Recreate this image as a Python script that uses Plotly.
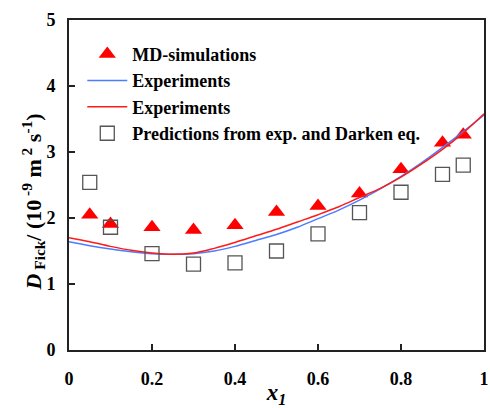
import plotly.graph_objects as go

x_md = [0.05, 0.1, 0.2, 0.3, 0.4, 0.5, 0.6, 0.7, 0.8, 0.9, 0.95]
d_md = [2.05, 1.91, 1.86, 1.82, 1.89, 2.09, 2.18, 2.37, 2.74, 3.14, 3.26]

x_pred = [0.05, 0.1, 0.2, 0.3, 0.4, 0.5, 0.6, 0.7, 0.8, 0.9, 0.95]
d_pred = [2.54, 1.86, 1.46, 1.30, 1.32, 1.50, 1.76, 2.08, 2.39, 2.66, 2.80]

x_exp = [0.0, 0.05, 0.1, 0.15, 0.2, 0.25, 0.3, 0.35, 0.4, 0.45, 0.5,
         0.55, 0.6, 0.65, 0.7, 0.75, 0.8, 0.85, 0.9, 0.95, 1.0]
d_exp_blue = [1.64, 1.58, 1.53, 1.49, 1.46, 1.45, 1.46, 1.50, 1.57, 1.66, 1.75,
              1.86, 1.99, 2.12, 2.27, 2.44, 2.63, 2.84, 3.07, 3.31, 3.56]
d_exp_red = [1.70, 1.64, 1.57, 1.51, 1.47, 1.45, 1.47, 1.54, 1.63, 1.73, 1.83,
             1.94, 2.05, 2.17, 2.31, 2.45, 2.62, 2.82, 3.04, 3.29, 3.58]

x_ticks = [0, 0.2, 0.4, 0.6, 0.8, 1]
x_ticklabels = ["0", "0.2", "0.4", "0.6", "0.8", "1"]
y_ticks = [0, 1, 2, 3, 4, 5]

y_title = ("<b><i>D</i></b><sub><b> Fick</b></sub><b>/ (10</b><sup><b> -9</b></sup>"
           "<b> m</b><sup><b> 2</b></sup><b> s</b><sup><b>-1</b></sup><b>)</b>")
x_title = "<b><i>x</i></b><sub><b><i>1</i></b></sub>"

FONT = "Liberation Serif"
X_RANGE = [0, 1]
Y_RANGE = [0, 5]

fig = go.Figure()
fig.add_trace(go.Scatter(
    x=x_md, y=d_md, mode="markers", name="MD-simulations",
    marker=dict(symbol="triangle-up", size=15, color="#ff0000", line=dict(width=0)),
))
fig.add_trace(go.Scatter(
    x=x_exp, y=d_exp_blue, mode="lines", name="Experiments",
    line=dict(color="#4a7dff", width=1.5, shape="spline"),
))
fig.add_trace(go.Scatter(
    x=x_exp, y=d_exp_red, mode="lines", name="Experiments",
    line=dict(color="#ff1a1a", width=1.5, shape="spline"),
))
fig.add_trace(go.Scatter(
    x=x_pred, y=d_pred, mode="markers", name="Predictions from exp. and Darken eq.",
    marker=dict(symbol="square-open", size=14, color="#555555", line=dict(width=1.3)),
))

# inward tick marks along the bottom and left axes, built from the tick values
tick_len_y = 0.018 * (Y_RANGE[1] - Y_RANGE[0])
tick_len_x = 0.0145 * (X_RANGE[1] - X_RANGE[0])
tx, ty = [], []
for t in x_ticks[1:-1]:
    tx += [t, t, None]
    ty += [Y_RANGE[0], Y_RANGE[0] + tick_len_y, None]
for t in y_ticks[1:-1]:
    tx += [X_RANGE[0], X_RANGE[0] + tick_len_x, None]
    ty += [t, t, None]
fig.add_trace(go.Scatter(
    x=tx, y=ty, mode="lines", showlegend=False, hoverinfo="skip",
    line=dict(color="#222222", width=2), cliponaxis=False,
))

fig.add_annotation(text=y_title, xref="paper", yref="paper", x=0, y=0.447,
                   xanchor="center", yanchor="middle", xshift=-36, textangle=-90,
                   showarrow=False, font=dict(family=FONT, size=22, color="black"))

fig.update_layout(
    width=490, height=408,
    margin=dict(l=69, r=6, t=20, b=58),
    paper_bgcolor="white", plot_bgcolor="white",
    font=dict(family=FONT, size=18, color="black"),
    showlegend=True,
    legend=dict(
        x=0.032, y=0.952, xanchor="left", yanchor="top",
        bgcolor="rgba(0,0,0,0)", borderwidth=0,
        font=dict(family=FONT, size=18, color="black", weight="bold"),
        itemwidth=40, tracegroupgap=0,
    ),
    xaxis=dict(
        range=X_RANGE, tickvals=x_ticks, ticktext=x_ticklabels,
        ticks="outside", ticklen=11, tickcolor="rgba(0,0,0,0)",
        showline=True, linecolor="#222222", linewidth=2, mirror=True,
        showgrid=False, zeroline=False, automargin=False,
        tickfont=dict(family=FONT, size=18, color="black", weight="bold"),
        title=dict(text=x_title, font=dict(family=FONT, size=23, color="black")),
    ),
    yaxis=dict(
        range=Y_RANGE, tickvals=y_ticks,
        ticks="outside", ticklen=8, tickcolor="rgba(0,0,0,0)",
        showline=True, linecolor="#222222", linewidth=2, mirror=True,
        showgrid=False, zeroline=False, automargin=False,
        tickfont=dict(family=FONT, size=18, color="black", weight="bold"),
    ),
)

fig.write_html("out.html", config={"displayModeBar": False},
               post_script="document.body.style.margin='0';document.body.style.padding='0';")
